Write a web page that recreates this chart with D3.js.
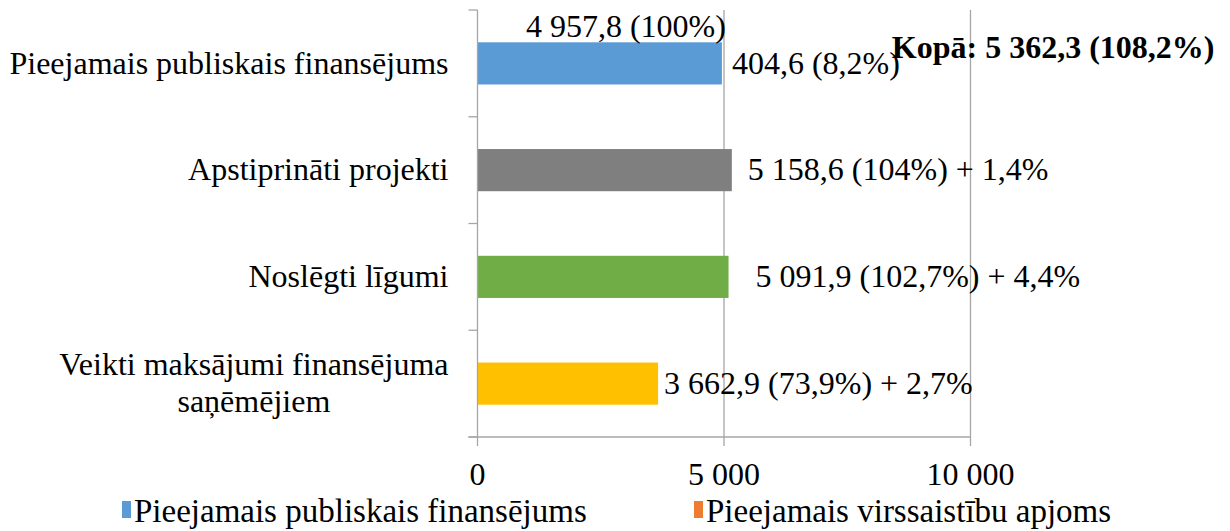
<!DOCTYPE html>
<html>
<head>
<meta charset="utf-8">
<script src="https://cdn.jsdelivr.net/npm/d3@7"></script>
<style>
  body { margin: 0; background: #fff; }
  text { font-family: "Liberation Serif", "Times New Roman", serif; fill: #000; }
</style>
</head>
<body>
<svg id="chart" width="1230" height="531"></svg>
<script>
// categories, top to bottom (wrapped lines kept as arrays)
var categories = [
  ["Pieejamais publiskais finansējums"],
  ["Apstiprināti projekti"],
  ["Noslēgti līgumi"],
  ["Veikti maksājumi finansējuma", "saņēmējiem"]
];
var values = [4957.8, 5158.6, 5091.9, 3662.9];
var barLabels = [
  "",
  "5 158,6 (104%) + 1,4%",
  "5 091,9 (102,7%) + 4,4%",
  "3 662,9 (73,9%) + 2,7%"
];
var overCommitment = 404.6;           // Pieejamais virssaistību apjoms
var topLabel = "4 957,8 (100%)";
var overLabel = "404,6 (8,2%)";
var totalLabel = "Kopā: 5 362,3 (108,2%)";
var xTicks = [0, 5000, 10000];
var legendNames = ["Pieejamais publiskais finansējums", "Pieejamais virssaistību apjoms"];

var barColors = ["#5b9bd5", "#7f7f7f", "#70ad47", "#ffc000"];
var legendColors = ["#5b9bd5", "#ed7d31"];
// label nudges the author dragged in by hand
var labelGap = [0, 16, 27, 6];

var svg = d3.select("#chart");
var fs = 32;

var x = d3.scaleLinear()
    .domain([0, 10000])
    .range([477.5, 970.5]);

var y = d3.scaleBand()
    .domain(d3.range(categories.length))
    .range([10, 437]);

var barH = y.bandwidth() * 0.395;
var grid = "#a6a6a6";

// gridlines
svg.append("g")
  .selectAll("line")
  .data(xTicks.slice(1))
  .enter().append("line")
    .attr("x1", d => x(d)).attr("x2", d => x(d))
    .attr("y1", y.range()[0]).attr("y2", y.range()[1])
    .attr("stroke", grid).attr("stroke-width", 1.3);

// bars
svg.append("g")
  .selectAll("rect")
  .data(values)
  .enter().append("rect")
    .attr("x", x(0))
    .attr("y", (d, i) => y(i) + (y.bandwidth() - barH) / 2)
    .attr("width", d => x(d) - x(0))
    .attr("height", barH)
    .attr("fill", (d, i) => barColors[i]);

// category axis
var yAxis = svg.append("g")
    .attr("transform", "translate(" + x(0) + ",0)");
yAxis.append("line")
    .attr("y1", y.range()[0]).attr("y2", y.range()[1])
    .attr("stroke", grid).attr("stroke-width", 1.3);
yAxis.selectAll(".tk")
  .data(d3.range(categories.length + 1))
  .enter().append("line")
    .attr("x1", -9).attr("x2", 0)
    .attr("y1", d => y.range()[0] + d * y.step())
    .attr("y2", d => y.range()[0] + d * y.step())
    .attr("stroke", grid).attr("stroke-width", 1.3);

// value axis
var xAxis = svg.append("g")
    .attr("transform", "translate(0," + y.range()[1] + ")");
xAxis.append("line")
    .attr("x1", x(0) - 9).attr("x2", x(10000))
    .attr("stroke", grid).attr("stroke-width", 1.3);
xAxis.selectAll(".tk")
  .data(xTicks)
  .enter().append("line")
    .attr("x1", d => x(d)).attr("x2", d => x(d))
    .attr("y1", 0).attr("y2", 9)
    .attr("stroke", grid).attr("stroke-width", 1.3);
xAxis.selectAll("text")
  .data(xTicks)
  .enter().append("text")
    .attr("x", d => x(d))
    .attr("y", 48)
    .attr("text-anchor", "middle")
    .attr("font-size", fs)
    .text(d => d3.format(",")(d).replace(/,/g, " "));

// category labels, wrapped lines centred in their block
var labelRight = x(0) - 29;
categories.forEach(function(lines, i) {
  var t = svg.append("text")
      .attr("font-size", fs);
  var cy = y(i) + y.bandwidth() / 2;
  var lh = fs * 1.15;
  var top = cy - (lines.length - 1) * lh / 2 + fs * 0.32;
  var spans = lines.map(function(s, j) {
    return t.append("tspan").attr("y", top + j * lh).text(s);
  });
  var w = d3.max(spans, s => s.node().getComputedTextLength());
  spans.forEach(function(s) {
    if (lines.length > 1) s.attr("x", labelRight - w / 2).attr("text-anchor", "middle");
    else s.attr("x", labelRight).attr("text-anchor", "end");
  });
});

// value labels on bars
svg.append("g")
  .selectAll("text")
  .data(values)
  .enter().append("text")
    .attr("x", (d, i) => x(d) + labelGap[i])
    .attr("y", (d, i) => y(i) + y.bandwidth() / 2 + fs * 0.32)
    .attr("font-size", fs)
    .text((d, i) => barLabels[i]);

// first bar: total above, over-commitment to the right, grand total in bold
var c0 = y(0) + y.bandwidth() / 2;
svg.append("text")
    .attr("x", x(values[0]) + 4)
    .attr("y", c0 - barH / 2 - 5)
    .attr("text-anchor", "end")
    .attr("font-size", fs)
    .text(topLabel);
svg.append("text")
    .attr("x", x(values[0]) + 10)
    .attr("y", c0 + fs * 0.32)
    .attr("font-size", fs)
    .text(overLabel);
svg.append("text")
    .attr("x", x(values[0] + overCommitment) + 150)
    .attr("y", c0 - 5)
    .attr("font-size", fs)
    .attr("font-weight", "bold")
    .text(totalLabel);

// legend
var legend = svg.append("g")
    .attr("transform", "translate(0,522)");
var lx = [122, 694];
legendNames.forEach(function(n, i) {
  legend.append("rect")
      .attr("x", lx[i]).attr("y", -21)
      .attr("width", 9).attr("height", 17)
      .attr("fill", legendColors[i]);
  legend.append("text")
      .attr("x", lx[i] + 12)
      .attr("y", 0)
      .attr("font-size", 33)
      .text(n);
});
</script>
</body>
</html>
